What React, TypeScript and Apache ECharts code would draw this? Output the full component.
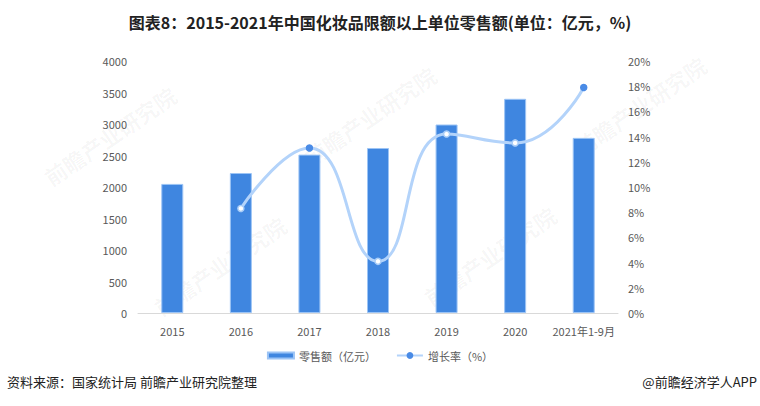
import React, { useEffect, useRef } from "react";
import * as echarts from "echarts";

const categories = ["2015", "2016", "2017", "2018", "2019", "2020", "2021年1-9月"];
const retailSales = [2049, 2222, 2514, 2619, 2992, 3400, 2780];
const growthRate = [null, 8.3, 13.1, 4.1, 14.2, 13.5, 17.9];
const filledMarkerIdx = [2, 6];
const leftTicks = { min: 0, max: 4000, interval: 500 };
const rightTicks = { min: 0, max: 20, interval: 2 };

const title = "图表8：2015-2021年中国化妆品限额以上单位零售额(单位：亿元，%)";
const source = "资料来源：国家统计局 前瞻产业研究院整理";
const credit = "@前瞻经济学人APP";

const FONT = "'Noto Sans CJK SC', 'Noto Sans', sans-serif";

export default function App() {
  const ref = useRef<HTMLDivElement>(null);
  useEffect(() => {
    if (!ref.current) return;
    const chart = echarts.init(ref.current, undefined, { renderer: "svg" });
    const wm = (x: number, y: number) => ({
      type: "text",
      x,
      y,
      rotation: 0.6,
      z: 0,
      silent: true,
      style: {
        text: "前瞻产业研究院",
        fill: "rgba(0,0,0,0.04)",
        font: `bold 22px ${FONT}`,
      },
    });
    chart.setOption({
      animation: false,
      textStyle: { fontFamily: FONT },
      title: {
        text: title,
        left: "center",
        top: 9,
        textStyle: { fontSize: 16, fontWeight: "bold", color: "#222", fontFamily: FONT },
      },
      grid: { left: 138, right: 142, top: 61, bottom: 93, containLabel: false },
      legend: {
        bottom: 40,
        left: "center",
        itemGap: 20,
        textStyle: { fontSize: 11, color: "#595959" },
        data: [
          { name: "零售额（亿元）", icon: "rect", itemStyle: { color: "#3f86e0" } },
          { name: "增长率（%）", itemStyle: { color: "#4a8be6", borderColor: "#4a8be6" } },
        ],
        itemWidth: 26,
        itemHeight: 6,
      },
      xAxis: {
        type: "category",
        data: categories,
        axisLine: { lineStyle: { color: "#d9d9d9" } },
        axisTick: { show: false },
        axisLabel: { color: "#595959", fontSize: 11, margin: 12, interval: 0 },
      },
      yAxis: [
        {
          type: "value",
          ...leftTicks,
          splitLine: { show: false },
          axisLine: { show: false },
          axisTick: { show: false },
          axisLabel: { color: "#595959", fontSize: 11, margin: 11, formatter: (v: number) => String(v) },
        },
        {
          type: "value",
          ...rightTicks,
          splitLine: { show: false },
          axisLine: { show: false },
          axisTick: { show: false },
          axisLabel: { color: "#595959", fontSize: 11, margin: 10, formatter: "{value}%" },
        },
      ],
      series: [
        {
          name: "零售额（亿元）",
          type: "bar",
          data: retailSales,
          barWidth: 22,
          itemStyle: { color: "#3f86e0", borderColor: "#9cc4f5", borderWidth: 1 },
          z: 2,
        },
        {
          name: "增长率（%）",
          type: "line",
          yAxisIndex: 1,
          smooth: 0.5,
          data: growthRate.map((v, i) =>
            filledMarkerIdx.includes(i)
              ? { value: v, itemStyle: { color: "#4a8be6", borderColor: "#4a8be6" } }
              : v
          ),
          symbol: "circle",
          symbolSize: 6,
          showSymbol: true,
          connectNulls: false,
          lineStyle: { color: "#b3d3fa", width: 3 },
          itemStyle: { color: "#ffffff", borderColor: "#a9cdf8", borderWidth: 1.5 },
          z: 3,
        },
      ],
      graphic: [
        wm(40, 170),
        wm(300, 150),
        wm(570, 140),
        wm(150, 300),
        wm(420, 290),
        {
          type: "text",
          left: 7,
          top: 375,
          style: { text: source, fill: "#222", font: `13px ${FONT}` },
        },
        {
          type: "text",
          right: 3,
          top: 375,
          style: { text: credit, fill: "#222", font: `13px ${FONT}` },
        },
      ],
    });
    return () => chart.dispose();
  }, []);
  return <div ref={ref} style={{ width: 760, height: 406, position: "absolute", left: 0, top: 0, background: "#fff" }} />;
}
